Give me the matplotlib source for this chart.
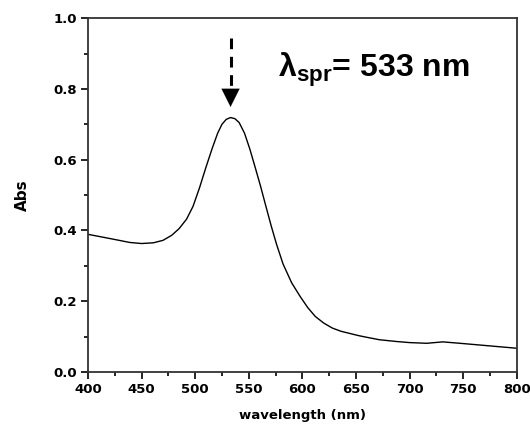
import matplotlib
matplotlib.use("Agg")
import matplotlib.pyplot as plt
from matplotlib.ticker import MultipleLocator

# -------------------------
# Data
# -------------------------
wavelength = [400, 412, 424, 439, 450, 461, 470, 478, 485, 492, 498, 504, 510,
              516, 521, 525, 529, 533, 537, 541, 546, 551, 556, 561, 566, 571,
              576, 582, 590, 598, 605, 612, 620, 628, 636, 644, 652, 660, 672,
              688, 700, 716, 731, 747, 766, 781, 800]
absorb = [0.389, 0.382, 0.375, 0.366, 0.363, 0.365, 0.372, 0.386, 0.405, 0.432,
          0.468, 0.520, 0.578, 0.633, 0.675, 0.700, 0.714, 0.719, 0.716, 0.705,
          0.675, 0.630, 0.578, 0.525, 0.468, 0.412, 0.360, 0.305, 0.252, 0.213,
          0.182, 0.157, 0.138, 0.124, 0.115, 0.109, 0.103, 0.098, 0.091, 0.086,
          0.083, 0.081, 0.085, 0.081, 0.076, 0.072, 0.067]

peak_nm = 533
label_text = "λ"
label_sub = "spr"
label_rest = "= 533 nm"

plt.rcParams["font.family"] = ["DejaVu Sans"]
plt.rcParams["mathtext.fontset"] = "custom"
plt.rcParams["mathtext.bf"] = "Liberation Sans:bold"
plt.rcParams["mathtext.rm"] = "Liberation Sans"

fig = plt.figure(figsize=(5.30, 4.32), dpi=100)
ax = fig.add_axes([0.166, 0.139, 0.809, 0.819])

ax.plot(wavelength, absorb, color="black", lw=1.0)

ax.set_xlim(400, 800)
ax.set_ylim(0.0, 1.0)
ax.xaxis.set_major_locator(MultipleLocator(50))
ax.xaxis.set_minor_locator(MultipleLocator(25))
ax.yaxis.set_major_locator(MultipleLocator(0.2))
ax.yaxis.set_minor_locator(MultipleLocator(0.1))
ax.yaxis.set_major_formatter(plt.FormatStrFormatter("%.1f"))

ax.tick_params(which="both", direction="out", top=False, right=False,
               width=1.2, colors="black")
ax.tick_params(which="major", length=5, labelsize=9.5, pad=3)
ax.tick_params(which="minor", length=3)
for lbl in ax.get_xticklabels() + ax.get_yticklabels():
    lbl.set_fontweight("bold")
for sp in ax.spines.values():
    sp.set_linewidth(1.3)
    sp.set_color("#333333")

ax.set_xlabel("wavelength (nm)", fontsize=9.5, fontweight="bold", labelpad=9)
ax.set_ylabel("Abs", fontsize=11, fontweight="bold", labelpad=17)

# dashed arrow pointing at the plasmon peak
ax.plot([peak_nm, peak_nm], [0.945, 0.80], color="black", lw=2.2,
        ls=(0, (3.5, 2.5)))
ax.annotate("", xy=(peak_nm, 0.749), xytext=(peak_nm, 0.80),
            arrowprops=dict(arrowstyle="-|>,head_length=1.3,head_width=0.65",
                            mutation_scale=10, color="black", lw=0.1,
                            shrinkA=0, shrinkB=0))

ax.text(577, 0.853, label_text + r"$_{\mathbf{" + label_sub + r"}}$" + label_rest,
        fontsize=23, fontweight="bold", ha="left", va="center",
        family=["Liberation Sans", "DejaVu Sans"])

fig.savefig("out.png", dpi=100)
